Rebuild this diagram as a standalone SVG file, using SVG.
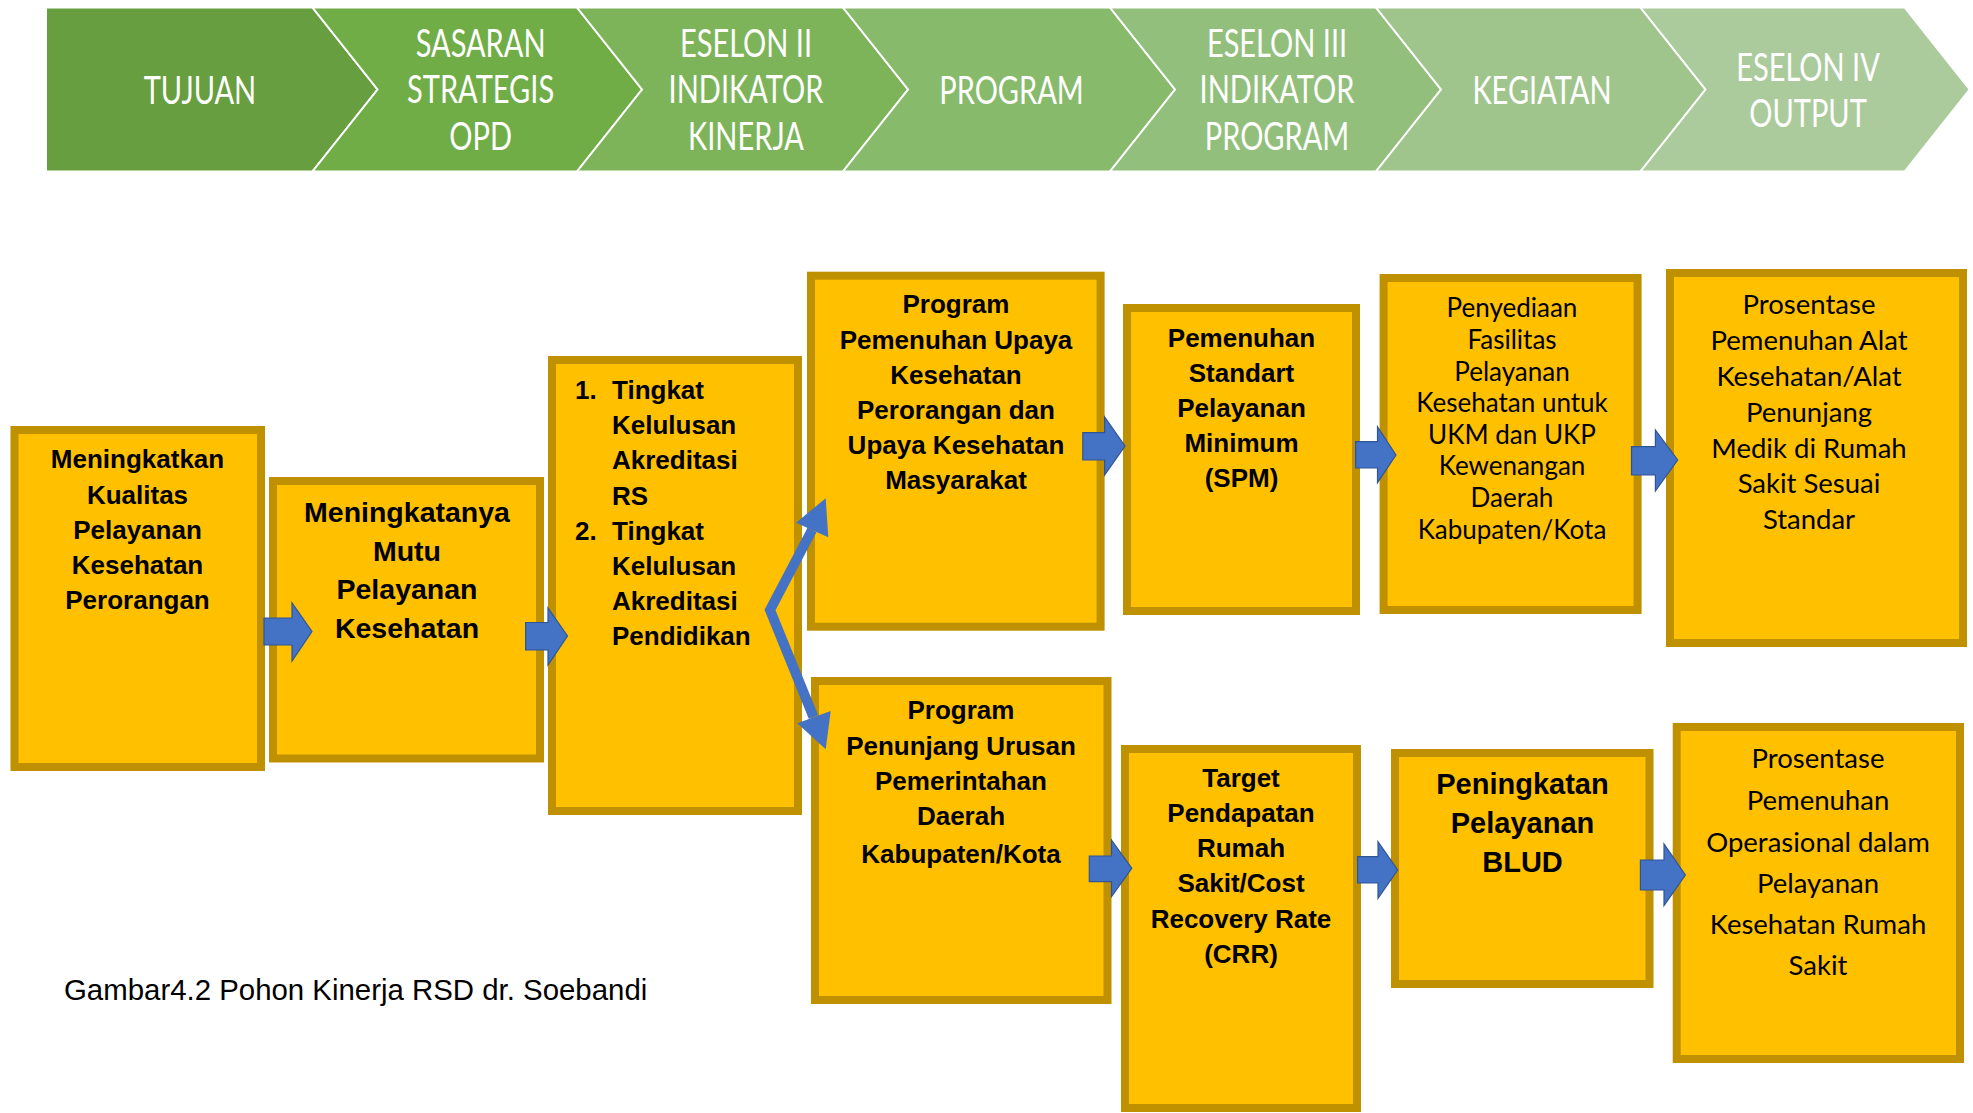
<svg xmlns="http://www.w3.org/2000/svg" width="1973" height="1113" viewBox="0 0 1973 1113">
<style>
.box{fill:#FFC000;stroke:#BF9000;stroke-width:8}
.b{font-family:"Liberation Sans",Arial,sans-serif;font-weight:bold;fill:#000;text-anchor:middle}
.r{font-family:Lato,"Liberation Sans",sans-serif;fill:#000;text-anchor:middle}
.hd{font-family:Lato,"Liberation Sans",sans-serif;fill:#fff;text-anchor:middle;font-size:29px}
.chev{stroke:#fff;stroke-width:2}
.blk{fill:#4472C4;stroke:#2F5597;stroke-width:1.2}
</style>
<rect width="1973" height="1113" fill="#fff"/>
<g id="header">
<path class="chev" fill="#679E40" d="M46,7.5 L312.5,7.5 L377.5,89.5 L312.5,171.5 L46,171.5 Z"/>
<path class="chev" fill="#70AD47" d="M312.5,7.5 L577,7.5 L642,89.5 L577,171.5 L312.5,171.5 L377.5,89.5 Z"/>
<path class="chev" fill="#7DB45A" d="M577,7.5 L843,7.5 L908,89.5 L843,171.5 L577,171.5 L642,89.5 Z"/>
<path class="chev" fill="#88BA6C" d="M843,7.5 L1110,7.5 L1175,89.5 L1110,171.5 L843,171.5 L908,89.5 Z"/>
<path class="chev" fill="#93BF7C" d="M1110,7.5 L1376,7.5 L1441,89.5 L1376,171.5 L1110,171.5 L1175,89.5 Z"/>
<path class="chev" fill="#A0C58C" d="M1376,7.5 L1640.5,7.5 L1705.5,89.5 L1640.5,171.5 L1376,171.5 L1441,89.5 Z"/>
<path class="chev" fill="#ABCB9C" d="M1640.5,7.5 L1904.6,7.5 L1969.6,89.5 L1904.6,171.5 L1640.5,171.5 L1705.5,89.5 Z"/>
<text class="hd" transform="translate(200,103.5) scale(1,1.33)">TUJUAN</text>
<text class="hd" transform="translate(480.6,56.6) scale(1,1.33)">SASARAN</text>
<text class="hd" transform="translate(480.6,103.2) scale(1,1.33)">STRATEGIS</text>
<text class="hd" transform="translate(480.6,149.7) scale(1,1.33)">OPD</text>
<text class="hd" transform="translate(746,56.6) scale(1,1.33)">ESELON II</text>
<text class="hd" transform="translate(746,103.2) scale(1,1.33)">INDIKATOR</text>
<text class="hd" transform="translate(746,149.7) scale(1,1.33)">KINERJA</text>
<text class="hd" transform="translate(1011.5,103.5) scale(1,1.33)">PROGRAM</text>
<text class="hd" transform="translate(1277,56.6) scale(1,1.33)">ESELON III</text>
<text class="hd" transform="translate(1277,103.2) scale(1,1.33)">INDIKATOR</text>
<text class="hd" transform="translate(1277,149.7) scale(1,1.33)">PROGRAM</text>
<text class="hd" transform="translate(1542,103.5) scale(1,1.33)">KEGIATAN</text>
<text class="hd" transform="translate(1808,80.6) scale(1,1.33)">ESELON IV</text>
<text class="hd" transform="translate(1808,127.1) scale(1,1.33)">OUTPUT</text>
</g>
<g id="n1">
<rect class="box" x="14.5" y="430" width="246.5" height="337"/>
<text class="b" font-size="26" x="137.5"><tspan x="137.5" y="468">Meningkatkan</tspan><tspan x="137.5" y="503.5">Kualitas</tspan><tspan x="137.5" y="539">Pelayanan</tspan><tspan x="137.5" y="574">Kesehatan</tspan><tspan x="137.5" y="609">Perorangan</tspan></text>
</g>
<g id="n2">
<rect class="box" x="273" y="481" width="267" height="277.5"/>
<text class="b" font-size="28.5"><tspan x="407" y="522">Meningkatanya</tspan><tspan x="407" y="561">Mutu</tspan><tspan x="407" y="599">Pelayanan</tspan><tspan x="407" y="638">Kesehatan</tspan></text>
</g>
<g id="n3">
<rect class="box" x="552" y="360" width="246" height="451"/>
<text class="b" font-size="26" style="text-anchor:start">
<tspan x="575" y="399">1.</tspan><tspan x="612" y="399">Tingkat</tspan>
<tspan x="612" y="434.2">Kelulusan</tspan>
<tspan x="612" y="469.4">Akreditasi</tspan>
<tspan x="612" y="504.6">RS</tspan>
<tspan x="575" y="539.8">2.</tspan><tspan x="612" y="539.8">Tingkat</tspan>
<tspan x="612" y="575">Kelulusan</tspan>
<tspan x="612" y="610.2">Akreditasi</tspan>
<tspan x="612" y="645.4">Pendidikan</tspan>
</text>
</g>
<g id="n4">
<rect class="box" x="811" y="275.7" width="289.6" height="351"/>
<text class="b" font-size="26"><tspan x="956" y="313.3">Program</tspan><tspan x="956" y="348.5">Pemenuhan Upaya</tspan><tspan x="956" y="383.7">Kesehatan</tspan><tspan x="956" y="418.9">Perorangan dan</tspan><tspan x="956" y="454.1">Upaya Kesehatan</tspan><tspan x="956" y="489.3">Masyarakat</tspan></text>
</g>
<g id="n5">
<rect class="box" x="1127" y="308" width="229" height="303"/>
<text class="b" font-size="26"><tspan x="1241.5" y="346.7">Pemenuhan</tspan><tspan x="1241.5" y="381.7">Standart</tspan><tspan x="1241.5" y="416.7">Pelayanan</tspan><tspan x="1241.5" y="452">Minimum</tspan><tspan x="1241.5" y="487">(SPM)</tspan></text>
</g>
<g id="n6">
<rect class="box" x="1383.6" y="278" width="254" height="332"/>
<text class="r" font-size="26"><tspan x="1512" y="317.3">Penyediaan</tspan><tspan x="1512" y="348.9">Fasilitas</tspan><tspan x="1512" y="380.5">Pelayanan</tspan><tspan x="1512" y="412.1">Kesehatan untuk</tspan><tspan x="1512" y="443.7">UKM dan UKP</tspan><tspan x="1512" y="475.3">Kewenangan</tspan><tspan x="1512" y="506.9">Daerah</tspan><tspan x="1512" y="538.5">Kabupaten/Kota</tspan></text>
</g>
<g id="n7">
<rect class="box" x="1670" y="273" width="293" height="370"/>
<text class="r" font-size="27.5"><tspan x="1809" y="314.3">Prosentase</tspan><tspan x="1809" y="350.1">Pemenuhan Alat</tspan><tspan x="1809" y="385.9">Kesehatan/Alat</tspan><tspan x="1809" y="421.7">Penunjang</tspan><tspan x="1809" y="457.5">Medik di Rumah</tspan><tspan x="1809" y="493.3">Sakit Sesuai</tspan><tspan x="1809" y="529.1">Standar</tspan></text>
</g>
<g id="n8">
<rect class="box" x="815" y="681" width="292.5" height="319"/>
<text class="b" font-size="26"><tspan x="961" y="719.3">Program</tspan><tspan x="961" y="755">Penunjang Urusan</tspan><tspan x="961" y="790">Pemerintahan</tspan><tspan x="961" y="825">Daerah</tspan><tspan x="961" y="863">Kabupaten/Kota</tspan></text>
</g>
<g id="n9">
<rect class="box" x="1125" y="749" width="232" height="359"/>
<text class="b" font-size="26"><tspan x="1241" y="786.7">Target</tspan><tspan x="1241" y="822.3">Pendapatan</tspan><tspan x="1241" y="857.3">Rumah</tspan><tspan x="1241" y="892.3">Sakit/Cost</tspan><tspan x="1241" y="927.7">Recovery Rate</tspan><tspan x="1241" y="962.7">(CRR)</tspan></text>
</g>
<g id="n10">
<rect class="box" x="1395" y="753" width="254.5" height="231"/>
<text class="b" font-size="29"><tspan x="1522.5" y="794">Peningkatan</tspan><tspan x="1522.5" y="833.3">Pelayanan</tspan><tspan x="1522.5" y="871.7">BLUD</tspan></text>
</g>
<g id="n11">
<rect class="box" x="1676.7" y="727" width="283.3" height="332"/>
<text class="r" font-size="27.5"><tspan x="1818" y="768.3">Prosentase</tspan><tspan x="1818" y="810">Pemenuhan</tspan><tspan x="1818" y="851.7">Operasional dalam</tspan><tspan x="1818" y="892.7">Pelayanan</tspan><tspan x="1818" y="934.3">Kesehatan Rumah</tspan><tspan x="1818" y="975">Sakit</tspan></text>
</g>
<g id="connectors">
<path class="blk" d="M264,618 H292 V603 L312,631.5 L292,661 V645 H264 Z"/>
<path class="blk" d="M525.6,622.5 H548 V608 L567.5,636 L548,665 V650 H525.6 Z"/>
<path class="blk" d="M1082.8,432.7 H1104.6 V417 L1125,446 L1104.6,475 V460 H1082.8 Z"/>
<path class="blk" d="M1355.6,441.7 H1377.5 V426.7 L1396,455 L1377.5,482.7 V468 H1355.6 Z"/>
<path class="blk" d="M1631.5,446.7 H1655.4 V430 L1677.7,460 L1655.4,491 V475 H1631.5 Z"/>
<path class="blk" d="M1089.3,856 H1111.5 V840 L1131.8,868.3 L1111.5,896.7 V881.7 H1089.3 Z"/>
<path class="blk" d="M1357.6,856.7 H1378 V841.7 L1397.7,870 L1378,898.3 V883 H1357.6 Z"/>
<path class="blk" d="M1640.4,860 H1664 V844 L1685.4,875 L1664,905.7 V890 H1640.4 Z"/>
<polyline points="812,530 770,610 813.5,717" fill="none" stroke="#4472C4" stroke-width="10" stroke-linejoin="miter"/>
<polygon points="825.7,498.3 796,522.7 828.3,537.3" fill="#4472C4"/>
<polygon points="825.7,749.3 797.3,723.3 830.7,711" fill="#4472C4"/>
</g>
<text id="caption" x="64" y="999.5" font-family="Liberation Sans, Arial, sans-serif" font-size="29.4" fill="#000">Gambar4.2 Pohon Kinerja RSD dr. Soebandi</text>
</svg>
